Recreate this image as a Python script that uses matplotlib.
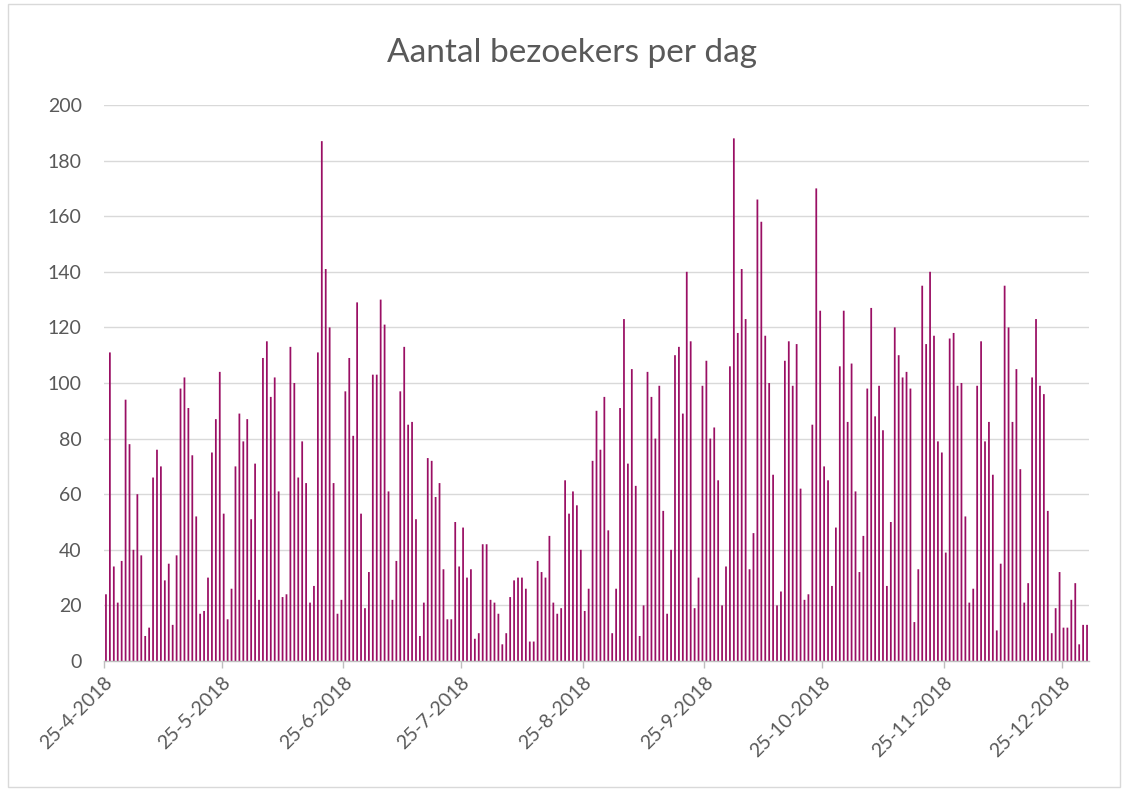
import matplotlib
matplotlib.use("Agg")
import matplotlib.pyplot as plt
import matplotlib.transforms as mtransforms
import pandas as pd
from matplotlib.patches import Rectangle

start_date = "2018-04-25"
visitors = [
    24, 111, 34, 21, 36, 94, 78, 40, 60, 38, 9, 12, 66, 76, 70, 29, 35, 13, 38, 98,
    102, 91, 74, 52, 17, 18, 30, 75, 87, 104, 53, 15, 26, 70, 89, 79, 87, 51, 71, 22,
    109, 115, 95, 102, 61, 23, 24, 113, 100, 66, 79, 64, 21, 27, 111, 187, 141, 120, 64, 17,
    22, 97, 109, 81, 129, 53, 19, 32, 103, 103, 130, 121, 61, 22, 36, 97, 113, 85, 86, 51,
    9, 21, 73, 72, 59, 64, 33, 15, 15, 50, 34, 48, 30, 33, 8, 10, 42, 42, 22, 21,
    17, 6, 10, 23, 29, 30, 30, 26, 7, 7, 36, 32, 30, 45, 21, 17, 19, 65, 53, 61,
    56, 40, 18, 26, 72, 90, 76, 95, 47, 10, 26, 91, 123, 71, 105, 63, 9, 20, 104, 95,
    80, 99, 54, 17, 40, 110, 113, 89, 140, 115, 19, 30, 99, 108, 80, 84, 65, 20, 34, 106,
    188, 118, 141, 123, 33, 46, 166, 158, 117, 100, 67, 20, 25, 108, 115, 99, 114, 62, 22, 24,
    85, 170, 126, 70, 65, 27, 48, 106, 126, 86, 107, 61, 32, 45, 98, 127, 88, 99, 83, 27,
    50, 120, 110, 102, 104, 98, 14, 33, 135, 114, 140, 117, 79, 75, 39, 116, 118, 99, 100, 52,
    21, 26, 99, 115, 79, 86, 67, 11, 35, 135, 120, 86, 105, 69, 21, 28, 102, 123, 99, 96,
    54, 10, 19, 32, 12, 12, 22, 28, 6, 13, 13,
]
tick_dates = ["2018-04-25", "2018-05-25", "2018-06-25", "2018-07-25", "2018-08-25",
              "2018-09-25", "2018-10-25", "2018-11-25", "2018-12-25"]
y_ticks = [0, 20, 40, 60, 80, 100, 120, 140, 160, 180, 200]
title = "Aantal bezoekers per dag"

plt.rcParams['font.family'] = ['Lato', 'DejaVu Sans']
text_color = "#595959"

dates = pd.date_range(start_date, periods=len(visitors), freq="D")

fig = plt.figure(figsize=(11.29, 7.91), dpi=100)
fig.patch.set_facecolor("white")
fig.patches.append(Rectangle((8 / 1129, 4 / 791), 1112 / 1129, 783 / 791, transform=fig.transFigure,
                             fill=False, edgecolor="#D9D9D9", linewidth=1))

ax = fig.add_axes([104 / 1129, 1 - 661 / 791, 985 / 1129, 556 / 791])
bars = ax.bar(dates + pd.Timedelta(hours=12), visitors, width=0.45, color="#9A0F64", linewidth=0)
for b in bars:
    b.set_snap(False)

ax.set_xlim(pd.Timestamp(start_date), dates[-1] + pd.Timedelta(days=1))
ax.set_ylim(0, 200)
ax.set_yticks(y_ticks)
ax.yaxis.grid(True, color="#D9D9D9", linewidth=1)
ax.set_axisbelow(True)

tick_ts = [pd.Timestamp(d) for d in tick_dates]
ax.set_xticks(tick_ts)
labels = [f"{t.day}-{t.month}-{t.year}" for t in tick_ts]
ax.set_xticklabels(labels, rotation=45, ha="right", rotation_mode="anchor",
                   fontsize=14, color=text_color)
offset = mtransforms.ScaledTranslation(25 / 100, -2 / 100, fig.dpi_scale_trans)
for lbl in ax.get_xticklabels():
    lbl.set_transform(lbl.get_transform() + offset)
ax.tick_params(axis="x", length=5, width=1, color="#BFBFBF", pad=4)
ax.tick_params(axis="y", length=0, labelsize=14, labelcolor=text_color, pad=16)

for s in ["top", "right", "left"]:
    ax.spines[s].set_visible(False)
ax.spines["bottom"].set_color("#BFBFBF")
ax.spines["bottom"].set_linewidth(1)

fig.text(572 / 1129, 1 - 53 / 791, title, ha="center", va="center", fontsize=24,
         color=text_color)

fig.savefig("out.png", dpi=100)
